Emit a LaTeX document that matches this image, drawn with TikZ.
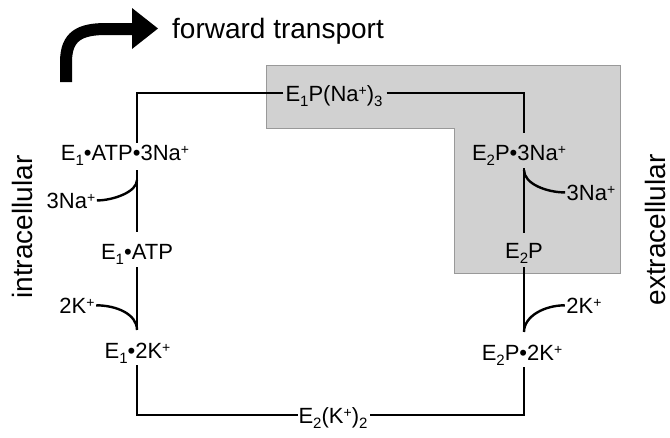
\documentclass[tikz,border=0pt]{standalone}
\usepackage{fontspec}
\setmainfont{Liberation Sans}
\usetikzlibrary{calc}
\newcommand{\sbs}[1]{\raisebox{-5pt}{\fontsize{15}{15}\selectfont #1}}
\newcommand{\spp}{\raisebox{6pt}{\fontsize{14}{14}\selectfont +}}
\begin{document}
\begin{tikzpicture}[x=1pt,y=-1pt,
  ln/.style={line width=2.4pt},
  sp/.style={inner sep=0pt, anchor=base, font=\fontsize{22}{22}\selectfont},
  ion/.style={inner sep=1.5pt, anchor=base, font=\fontsize{22}{22}\selectfont},
  big/.style={inner sep=0pt, font=\fontsize{28}{28}\selectfont}]
\useasboundingbox (0,0) rectangle (670,437);
% shaded region
\filldraw[fill=black!18, draw=black!40, line width=1pt]
  (266,65) -- (620,65) -- (620,273) -- (454,273) -- (454,128) -- (266,128) -- cycle;
% forward arrow
\coordinate (arrs) at (66,82);
\coordinate (arrb) at (134,29);
\draw[line width=12pt] (arrs) -- (66,62) .. controls (66,36) and (80,29) .. (106,29) -- (arrb);
\fill (132,8) -- (158,28.5) -- (132,49) -- cycle;
\node[big, anchor=base west] (fwd) at (172,38) {forward transport};
\node[big, rotate=90] (intra) at (22,227) {intracellular};
\node[big, rotate=90] (extra) at (655,230) {extracellular};
% species
\node[sp] (e1p)  at (334,101)   {E\sbs{1}P(Na\spp)\sbs{3}};
\node[sp] (a3)   at (125,160)   {E\sbs{1}•ATP•3Na\spp};
\node[sp] (atp)  at (137,259)   {E\sbs{1}•ATP};
\node[sp] (e1k)  at (137.5,358) {E\sbs{1}•2K\spp};
\node[sp] (e2k)  at (333,423)   {E\sbs{2}(K\spp)\sbs{2}};
\node[sp] (e2pk) at (522,360)   {E\sbs{2}P•2K\spp};
\node[sp] (e2p)  at (524,258)   {E\sbs{2}P};
\node[sp] (e2pn) at (519,160)   {E\sbs{2}P•3Na\spp};
% ions
\node[ion] (nain)  at (71,208)  {3Na\spp};
\node[ion] (kin)   at (77,313)  {2K\spp};
\node[ion] (naout) at (591,200) {3Na\spp};
\node[ion] (kout)  at (584,313) {2K\spp};
% corners
\coordinate (tl) at (137,93);
\coordinate (tr) at (524,93);
\coordinate (bl) at (137,415);
\coordinate (br) at (524,415);
% left column
\draw[ln] ($(e1p.west |- tl)+(-2,0)$) -- (tl) -- ($(a3.base -| tl)+(0,-17)$);
\draw[ln] ($(a3.base -| tl)+(0,10)$) -- ($(atp.base -| tl)+(0,-27)$);
\draw[ln] ($(atp.base -| tl)+(0,8)$) -- ($(e1k.base -| tl)+(0,-28)$);
\draw[ln] ($(e1k.base -| tl)+(0,7)$) -- (bl) -- (e2k.west |- bl);
% right column
\draw[ln] ($(e1p.east |- tr)+(4,0)$) -- (tr) -- ($(e2pn.base -| tr)+(0,-27)$);
\draw[ln] ($(e2pn.base -| tr)+(0,8)$) -- ($(e2p.base -| tr)+(0,-25)$);
\draw[ln] ($(e2p.base -| tr)+(0,9)$) -- ($(e2pk.base -| tr)+(0,-28)$);
\draw[ln] ($(e2pk.base -| tr)+(0,7)$) -- (br) -- ($(e2k.east |- br)+(2,0)$);
% ion curves
\draw[ln] ($(a3.base -| tl)+(0,20)$) .. controls +(0,12) and +(16,0) .. (nain.east);
\draw[ln] (kin.east) .. controls +(20,0) and +(0,-16) .. ($(e1k.base -| tl)+(0,-28)$);
\draw[ln] ($(e2pn.base -| tr)+(0,10)$) .. controls +(0,14) and +(-18,0) .. (naout.west);
\draw[ln] (kout.west) .. controls +(-20,0) and +(0,-16) .. ($(e2pk.base -| tr)+(0,-28)$);
\end{tikzpicture}
\end{document}
